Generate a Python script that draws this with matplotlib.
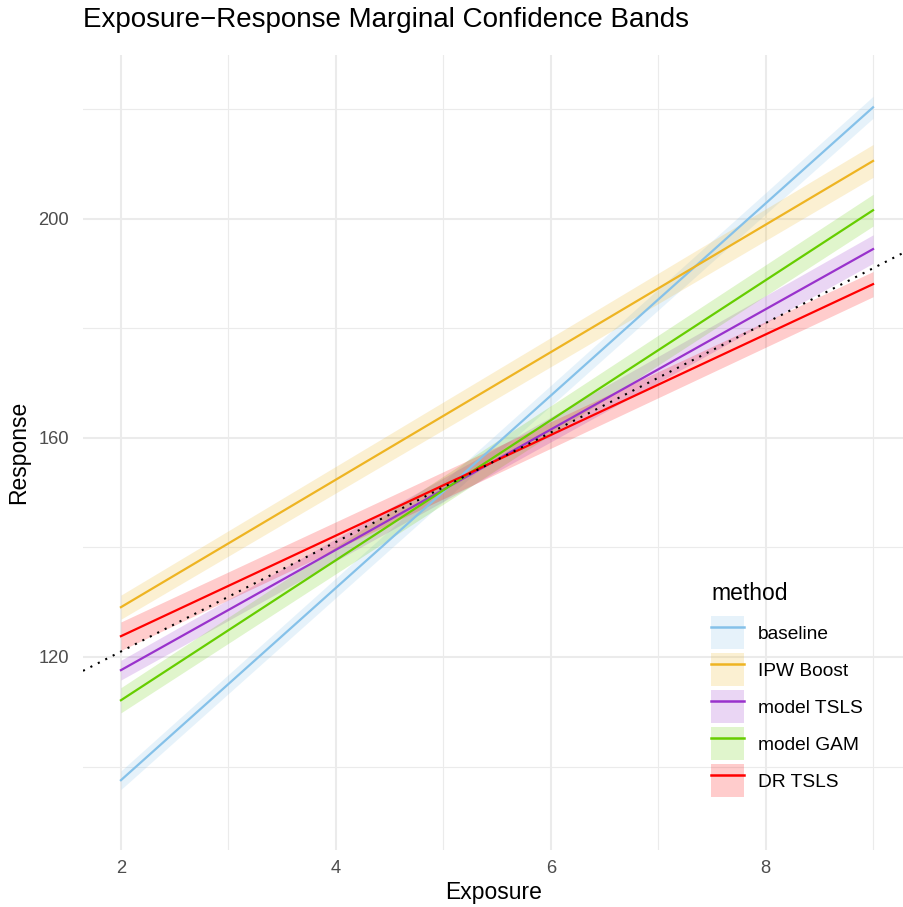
import matplotlib
matplotlib.use("Agg")
import matplotlib.pyplot as plt
from matplotlib.patches import Patch
from matplotlib.lines import Line2D

plt.rcParams['font.family'] = ['Liberation Sans', 'DejaVu Sans']

# fitted lines at the two ends of the exposure range, with band half widths
methods = ["baseline", "IPW Boost", "model TSLS", "model GAM", "DR TSLS"]
colors = ["#85C1E9", "#EEB422", "#9932CC", "#66CD00", "#FF0000"]
exposure = [2, 9]
fit = {
    "baseline":   [97.5, 220.4],
    "IPW Boost":  [129.1, 210.6],
    "model TSLS": [117.6, 194.5],
    "model GAM":  [112.1, 201.6],
    "DR TSLS":    [123.8, 188.1],
}
halfwidth = {
    "baseline":   [1.7, 2.0],
    "IPW Boost":  [2.2, 3.0],
    "model TSLS": [1.8, 2.6],
    "model GAM":  [2.3, 2.9],
    "DR TSLS":    [2.6, 2.3],
}
# reference line (dotted)
ref_intercept = 101
ref_slope = 10

fig = plt.figure(figsize=(9.04, 9.07), dpi=100)
ax = fig.add_axes([83/904, 1 - 850/907, (904 - 83)/904, (850 - 55)/907])

xlim = (1.647, 9.288)
ylim = (84.75, 229.95)

# grid like theme_minimal
for v in [3, 5, 7, 9]:
    ax.axvline(v, color="#EBEBEB", lw=0.8, zorder=0)
for v in [2, 4, 6, 8]:
    ax.axvline(v, color="#EBEBEB", lw=1.5, zorder=0)
for v in [100, 140, 180, 220]:
    ax.axhline(v, color="#EBEBEB", lw=0.8, zorder=0)
for v in [120, 160, 200]:
    ax.axhline(v, color="#EBEBEB", lw=1.5, zorder=0)

handles = []
for m, c in zip(methods, colors):
    y = fit[m]
    hw = halfwidth[m]
    lo = [a - b for a, b in zip(y, hw)]
    hi = [a + b for a, b in zip(y, hw)]
    ax.fill_between(exposure, lo, hi, color=c, alpha=0.2, lw=0, zorder=1)
    ax.plot(exposure, y, color=c, lw=1.6, zorder=2)
    handles.append((Patch(facecolor=c, alpha=0.2, edgecolor="none"),
                    Line2D([], [], color=c, lw=1.8)))

xr = [xlim[0], xlim[1]]
ax.plot(xr, [ref_intercept + ref_slope * v for v in xr], color="black",
        lw=1.5, linestyle=(0, (1, 3)), zorder=3)

ax.set_xlim(*xlim)
ax.set_ylim(*ylim)
ax.set_xticks([2, 4, 6, 8])
ax.set_yticks([120, 160, 200])
for s in ax.spines.values():
    s.set_visible(False)
ax.tick_params(length=0, labelsize=13.2, labelcolor="#4D4D4D")
ax.tick_params(axis="y", pad=10)
ax.tick_params(axis="x", pad=7)

ax.set_xlabel("Exposure", fontsize=16.5, labelpad=3)
ax.set_ylabel("Response", fontsize=16.5, labelpad=6)
ax.set_title("Exposure\u2212Response Marginal Confidence Bands", loc="left",
             fontsize=20, pad=20)

leg = ax.legend(handles, methods, title="method", loc="upper left",
                bbox_to_anchor=(711/904, 1 - 582/907), bbox_transform=fig.transFigure,
                frameon=False, fontsize=13.8, title_fontsize=16.5,
                handlelength=1.72, handleheight=2.27, labelspacing=0.21,
                handletextpad=0.73, alignment="left", borderaxespad=0,
                borderpad=0)
leg._legend_box.sep = 8  # extra room under the legend title

fig.savefig("out.png", dpi=100)
